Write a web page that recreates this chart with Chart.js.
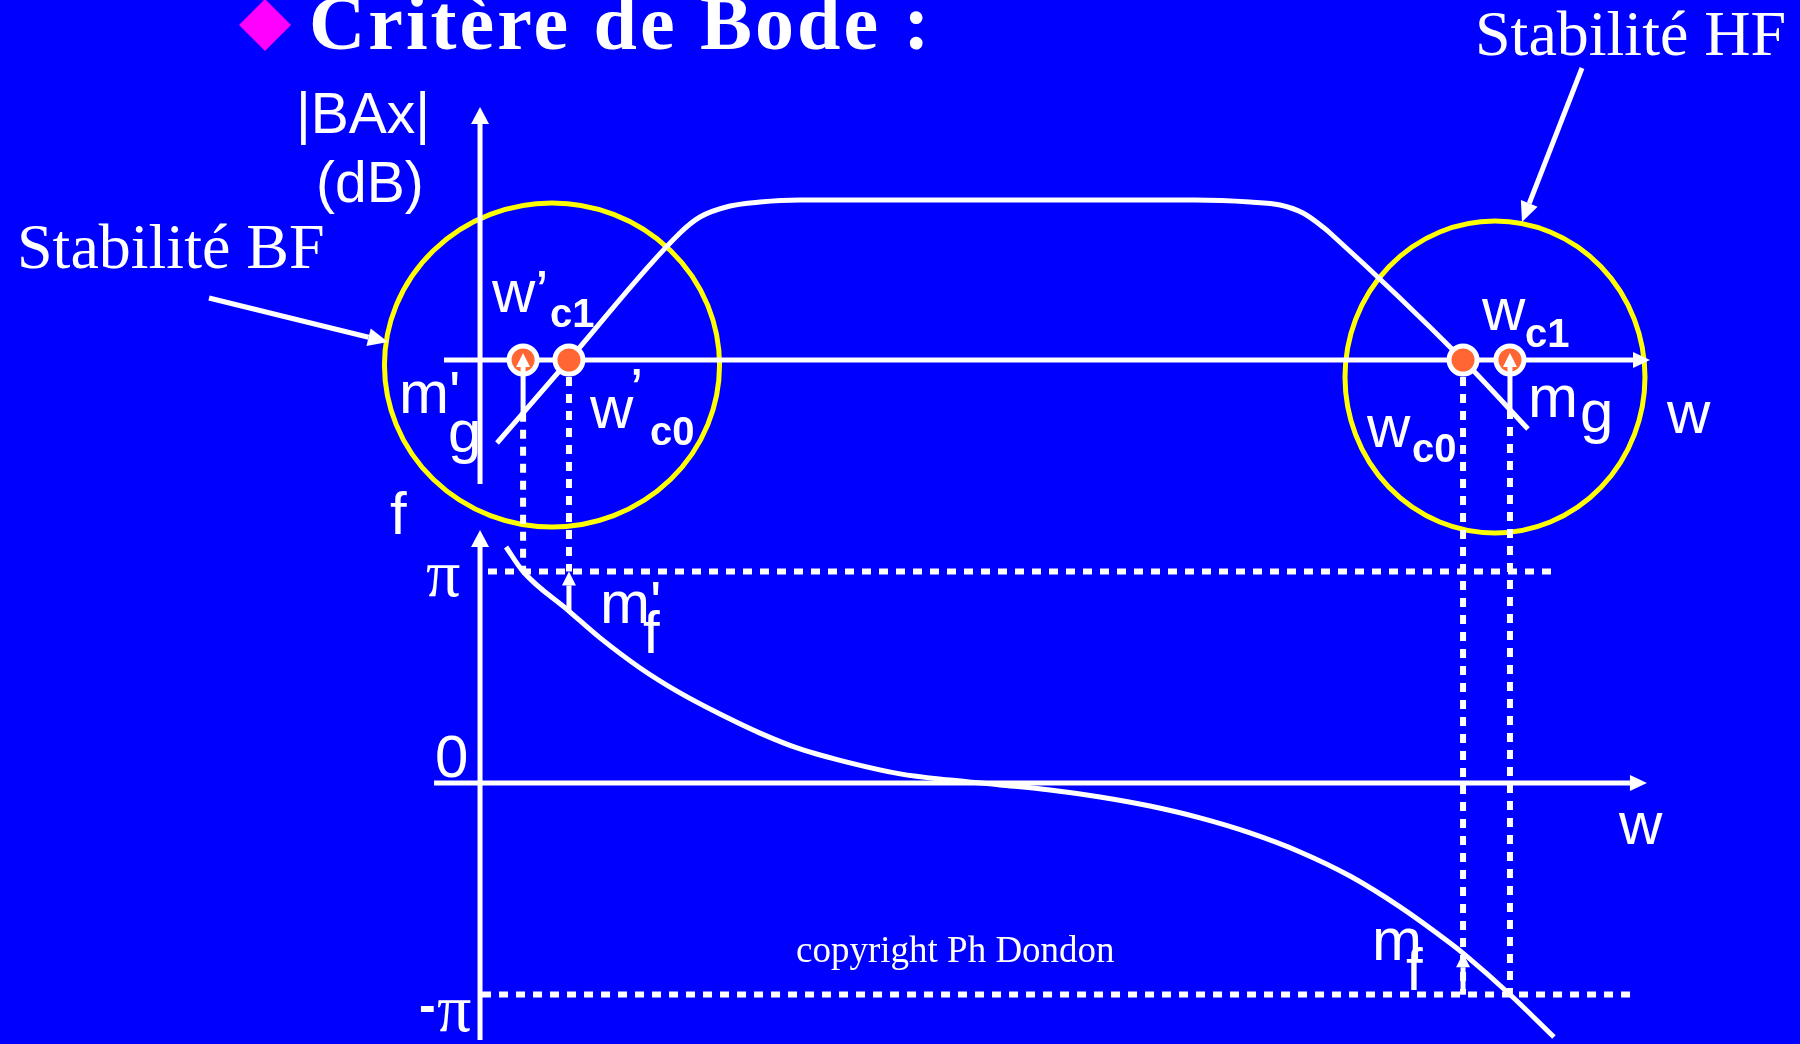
<!DOCTYPE html>
<html><head><meta charset="utf-8">
<script src="https://cdn.jsdelivr.net/npm/chart.js@4.4.1/dist/chart.umd.min.js"></script>
<style>html,body{margin:0;padding:0;background:#0000FF;overflow:hidden}canvas{display:block}</style>
</head><body><canvas id="c" width="1800" height="1044"></canvas>
<script>
// ---- data (w in arbitrary log-frequency units, gain in dB, phase in multiples of pi) ----
const wGain  = [1.45, 7.6, 17.09, 18.8, 21.37, 23.93, 27.35, 61.11, 65.81, 68.38, 70.34, 72.05, 72.65, 84.02, 89.57];
const gainDb = [-20.75, 0, 31.75, 35.75, 38.5, 39.5, 40, 40, 39.5, 38.75, 36.75, 33.25, 31.75, 0, -17.25];

const wPhase  = [2.22, 3.68, 7.6, 10.26, 13.68, 17.09, 20.51, 23.93, 27.35, 31.62, 35.9, 40.17, 44.44, 48.72, 52.99, 57.26, 61.54, 65.81, 70.09, 74.36, 78.63, 82.91, 84.19, 88.03, 91.79];
const phasePi = [1.116, 1.0, 0.813, 0.686, 0.544, 0.426, 0.326, 0.236, 0.161, 0.095, 0.043, 0.014, -0.009, -0.033, -0.066, -0.109, -0.165, -0.236, -0.326, -0.44, -0.586, -0.757, -0.813, -1.0, -1.201];

// crossover frequencies: w'c1, w'c0, wc0, wc1
const crossNames = ["w'c1", "w'c0", "wc0", "wc1"];
const crossW     = [3.68, 7.6, 84.02, 88.03];
const crossGain  = [-13.2, 0, 0, -12.5];   // gain of the curve at each crossover
const guideTo    = [1, 1, -1, -1];         // dotted guide ends on +pi / -pi

// margins
const marginNames = ["m'g", "m'f", "mg", "mf"];
const marginW     = [3.68, 7.6, 88.03, 84.02];
const marginFrom  = [-13.2, 0.813, -12.5, -1];
const marginTo    = [0, 1, 0, -0.805];
const marginAxis  = ['yG', 'yP', 'yG', 'yP'];

// stability zones (ellipses): BF, HF
const zoneNames = ['Stabilité BF', 'Stabilité HF'];
const zoneW   = [6.15, 86.75];
const zoneDb  = [-1.25, -4.25];
const zoneRw  = [14.32, 12.82];
const zoneRdb = [40.5, 39];

// reference levels of phase plot (+pi, -pi)
const phaseLevels  = [1, -1];
const phaseLevelW0 = [0.68, 0.17];
const phaseLevelW1 = [91.97, 98.8];

// ---- layout ----
const WHITE = '#FFFFFF', YELLOW = '#FFFF00', ORANGE = '#FF6633', MAGENTA = '#FF00FF', BLUE = '#0000FF';
const A = '60px "Liberation Sans"', B = 'bold 40px "Liberation Sans"';
const TEXT = [
  {t:'Critère de Bode :', x:309, y:49, f:'bold 78px "Liberation Serif"', ls:3},
  {t:'|BAx|', x:296, y:133, f:'57px "Liberation Sans"'},
  {t:'(dB)', x:316, y:202, f:'57px "Liberation Sans"'},
  {t:zoneNames[0], x:17, y:268, f:'64px "Liberation Serif"'},
  {t:zoneNames[1], x:1475, y:55, f:'64px "Liberation Serif"'},
  {t:'w’', x:492, y:312, f:A}, {t:'c1', x:550, y:327, f:B},
  {t:"m'", x:399, y:413, f:A}, {t:'g', x:448, y:452, f:A},
  {t:'w', x:590, y:428, f:A}, {t:'’', x:630, y:410, f:A}, {t:'c0', x:650, y:445, f:B},
  {t:'w', x:1482, y:330, f:A}, {t:'c1', x:1525, y:347, f:B},
  {t:'m', x:1528, y:417, f:A}, {t:'g', x:1580, y:432, f:A},
  {t:'w', x:1367, y:447, f:A}, {t:'c0', x:1412, y:462, f:B},
  {t:'w', x:1667, y:433, f:A},
  {t:'f', x:390, y:534, f:A},
  {t:'π', x:426, y:596, f:'68px "Liberation Serif"'},
  {t:'0', x:435, y:777, f:A},
  {t:'w', x:1619, y:844, f:A},
  {t:"m'", x:600, y:623, f:A}, {t:'f', x:643, y:653, f:A},
  {t:'m', x:1372, y:960, f:A}, {t:'f', x:1406, y:990, f:A},
  {t:'-', x:419, y:1022, f:'bold 50px "Liberation Sans"'},
  {t:'π', x:437, y:1031, f:'68px "Liberation Serif"'},
  {t:'copyright Ph Dondon', x:796, y:962, f:'37px "Liberation Serif"'}
];

function head(ctx, xt, yt, xf, yf, len, half) {
  const a = Math.atan2(yt - yf, xt - xf);
  const bx = xt - len * Math.cos(a), by = yt - len * Math.sin(a);
  ctx.beginPath();
  ctx.moveTo(xt, yt);
  ctx.lineTo(bx + half * Math.sin(a), by - half * Math.cos(a));
  ctx.lineTo(bx - half * Math.sin(a), by + half * Math.cos(a));
  ctx.closePath(); ctx.fill();
  return [bx, by];
}
function arrow(ctx, x1, y1, x2, y2, w, len, half) {
  const [bx, by] = head(ctx, x2, y2, x1, y1, len, half);
  ctx.lineWidth = w; ctx.lineCap = 'butt'; ctx.setLineDash([]);
  ctx.beginPath(); ctx.moveTo(x1, y1); ctx.lineTo(bx, by); ctx.stroke();
}
function seg(ctx, x1, y1, x2, y2, w, dash) {
  ctx.lineWidth = w; ctx.lineCap = 'butt'; ctx.setLineDash(dash || []);
  ctx.beginPath(); ctx.moveTo(x1, y1); ctx.lineTo(x2, y2); ctx.stroke();
  ctx.setLineDash([]);
}

const diagram = {
  id: 'diagram',
  beforeDatasetsDraw(c) {
    const ctx = c.ctx, X = c.scales.x, G = c.scales.yG, P = c.scales.yP;
    const px = v => X.getPixelForValue(v), pg = v => G.getPixelForValue(v), pp = v => P.getPixelForValue(v);
    ctx.save();
    ctx.fillStyle = BLUE; ctx.fillRect(0, 0, c.width, c.height);
    // stability zones
    ctx.strokeStyle = YELLOW; ctx.lineWidth = 5;
    for (let i = 0; i < zoneW.length; i++) {
      const cx = px(zoneW[i]), cy = pg(zoneDb[i]);
      ctx.beginPath();
      ctx.ellipse(cx, cy, Math.abs(px(zoneW[i] + zoneRw[i]) - cx), Math.abs(pg(zoneDb[i] + zoneRdb[i]) - cy), 0, 0, Math.PI * 2);
      ctx.stroke();
    }
    ctx.strokeStyle = WHITE; ctx.fillStyle = WHITE;
    // axes
    arrow(ctx, px(0), pg(-31), px(0), pg(63.25), 5, 17, 9);
    arrow(ctx, px(-3.08), pg(0), px(100), pg(0), 5, 17, 8);
    arrow(ctx, px(0), pp(-1.215), px(0), pp(1.196), 5, 17, 9);
    arrow(ctx, px(-3.93), pp(0), px(99.74), pp(0), 5, 17, 8);
    // phase reference levels
    for (let i = 0; i < phaseLevels.length; i++)
      seg(ctx, px(phaseLevelW0[i]), pp(phaseLevels[i]), px(phaseLevelW1[i]), pp(phaseLevels[i]), 6, [9, 8]);
    // dotted guides from crossover to phase levels
    for (let i = 0; i < crossW.length; i++)
      seg(ctx, px(crossW[i]), pg(crossGain[i]), px(crossW[i]), pp(guideTo[i]), 6, [9, 8]);
    // arrows pointing at the zones
    arrow(ctx, 209, 298, 388, 342, 5, 20, 9);
    arrow(ctx, 1582, 68, 1522, 222, 5, 20, 9);
    ctx.restore();
  },
  afterDatasetsDraw(c) {
    const ctx = c.ctx, X = c.scales.x;
    ctx.save();
    ctx.strokeStyle = WHITE; ctx.fillStyle = WHITE;
    // margin arrows
    for (let i = 0; i < marginW.length; i++) {
      const S = c.scales[marginAxis[i]];
      const x = X.getPixelForValue(marginW[i]);
      let y1 = S.getPixelForValue(marginFrom[i]), y2 = S.getPixelForValue(marginTo[i]);
      if (marginAxis[i] === 'yG') y2 -= 7;
      arrow(ctx, x, y1, x, y2, 5, 14, 7);
    }
    // diamond bullet
    ctx.fillStyle = MAGENTA;
    ctx.beginPath(); ctx.moveTo(265, -1); ctx.lineTo(291, 25); ctx.lineTo(265, 51); ctx.lineTo(239, 25); ctx.closePath(); ctx.fill();
    // texts
    ctx.fillStyle = WHITE; ctx.textAlign = 'left'; ctx.textBaseline = 'alphabetic';
    for (const o of TEXT) {
      ctx.font = o.f;
      ctx.letterSpacing = (o.ls || 0) + 'px';
      ctx.fillText(o.t, o.x, o.y);
    }
    ctx.letterSpacing = '0px';
    ctx.restore();
  }
};

new Chart(document.getElementById('c'), {
  type: 'scatter',
  data: {
    datasets: [
      { label: 'crossovers', yAxisID: 'yG', showLine: false,
        data: crossW.map((w) => ({x: w, y: 0})),
        pointRadius: 14, pointBorderWidth: 5, pointBackgroundColor: ORANGE, pointBorderColor: WHITE },
      { label: '|BAx| (dB)', yAxisID: 'yG', showLine: true,
        data: wGain.map((w, i) => ({x: w, y: gainDb[i]})),
        borderColor: WHITE, borderWidth: 5, pointRadius: 0, cubicInterpolationMode: 'monotone' },
      { label: 'phase', yAxisID: 'yP', showLine: true,
        data: wPhase.map((w, i) => ({x: w, y: phasePi[i]})),
        borderColor: WHITE, borderWidth: 5, pointRadius: 0, cubicInterpolationMode: 'monotone' }
    ]
  },
  options: {
    responsive: false, devicePixelRatio: 1, animation: false,
    layout: { padding: 0, autoPadding: false },
    plugins: { legend: { display: false }, tooltip: { enabled: false } },
    scales: {
      x:  { type: 'linear', display: false, min: -41.03, max: 112.82 },
      yG: { type: 'linear', display: false, min: -171, max: 90 },
      yP: { type: 'linear', display: false, min: -1.234, max: 3.702 }
    }
  },
  plugins: [diagram]
});
</script></body></html>
